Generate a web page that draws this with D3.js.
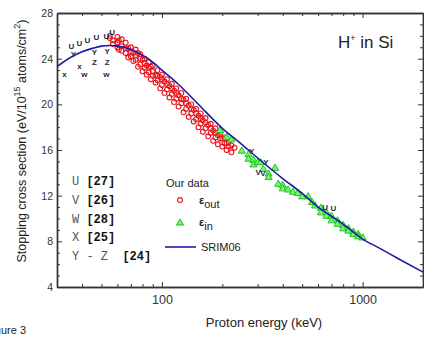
<!DOCTYPE html>
<html>
<head>
<meta charset="utf-8">
<script src="https://cdn.jsdelivr.net/npm/d3@7"></script>
<style>
  body { margin: 0; background: #fff; }
  svg { display: block; font-family: Arial, "Liberation Sans", sans-serif; }
</style>
</head>
<body>
<svg id="chart" width="424" height="338"></svg>
<script>
// SRIM06 curve
const srimE = [30, 35, 40, 45, 50, 55, 60, 70, 80, 90, 100, 120, 150, 200, 250, 300, 400, 500, 600, 700, 800, 1000, 1200, 1500, 2000];
const srimS = [23.3, 24.1, 24.6, 24.9, 25.1, 25.15, 25.1, 24.8, 24.3, 23.7, 23.0, 21.8, 20.1, 17.9, 16.5, 15.3, 13.5, 12.2, 11.0, 10.2, 9.5, 8.2, 7.45, 6.5, 5.3];

// our data, eps_out (red circles)
const outE = [55, 55, 57, 57, 60, 60, 60, 63, 63, 63, 66, 66, 66, 70, 70, 70, 74, 74, 74, 78, 78, 78,
  82, 82, 82, 86, 86, 86, 90, 90, 90, 95, 95, 95, 100, 100, 100, 106, 106, 106, 112, 112, 112,
  118, 118, 118, 125, 125, 125, 132, 132, 132, 140, 140, 140, 148, 148, 148, 156, 156, 156,
  165, 165, 165, 175, 175, 175, 185, 185, 185, 195, 195, 205, 205, 215, 215, 230,
  61, 61, 68, 68, 72, 72, 76, 76, 80, 80, 84, 84, 88, 88, 93, 93, 98, 98, 103, 103, 109, 109,
  115, 115, 121, 121, 128, 128, 136, 136, 144, 144, 152, 152, 160, 160, 170, 170, 180, 180,
  190, 190, 200, 200, 210, 210, 222, 222];
const outS = [25.8, 26.0, 25.6, 25.3, 25.9, 25.4, 25.0, 25.7, 25.1, 24.7, 25.4, 24.9, 24.5, 25.0, 24.6, 24.2,
  24.8, 24.3, 23.9, 24.4, 24.0, 23.5, 24.0, 23.6, 23.2, 23.7, 23.2, 22.8, 23.4, 22.9, 22.5,
  23.0, 22.5, 22.1, 22.6, 22.2, 21.7, 22.2, 21.8, 21.3, 21.8, 21.4, 20.9, 21.4, 21.0, 20.5,
  21.0, 20.5, 20.1, 20.5, 20.1, 19.6, 20.0, 19.6, 19.2, 19.6, 19.2, 18.7, 19.2, 18.8, 18.3,
  18.8, 18.4, 17.9, 18.3, 17.9, 17.5, 17.9, 17.5, 17.1, 17.5, 17.0, 17.1, 16.6, 16.7, 16.3, 16.2,
  25.6, 24.8, 24.9, 24.1, 24.5, 23.8, 24.5, 23.3, 23.9, 22.9, 23.4, 22.6, 23.3, 22.2,
  22.6, 21.9, 22.4, 21.4, 22.0, 21.0, 21.6, 20.6, 21.2, 20.2, 20.8, 19.8, 20.4, 19.3,
  19.9, 18.9, 19.5, 18.5, 19.0, 18.0, 18.6, 17.6, 18.2, 17.2, 17.7, 16.8, 17.3, 16.5,
  17.0, 16.3, 16.6, 16.0, 16.4, 15.8];

// our data, eps_in (green triangles)
const inE = [195, 210, 222, 250, 270, 270, 286, 286, 300, 310, 320, 340, 340, 366, 380, 400, 400, 425, 450, 475,
  500, 535, 560, 580, 620, 620, 660, 660, 700, 700, 750, 750, 800, 800, 850, 850, 900, 900, 950, 950, 1000];
const inS = [17.7, 17.1, 16.9, 15.9, 15.6, 15.2, 15.1, 14.7, 14.9, 14.9, 14.3, 13.9, 13.6, 14.4, 13.0, 12.9, 12.6, 12.5, 12.3, 12.2,
  11.9, 11.9, 11.4, 11.1, 10.9, 10.5, 10.5, 10.2, 10.2, 9.8, 9.8, 9.5, 9.4, 9.1, 9.1, 8.9, 8.8, 8.6, 8.6, 8.4, 8.3];

// literature data, plotted as letters
const litE = [35.4, 38.8, 42.5, 47.1, 52.8, 56.5, 36.2, 46.1, 53.4, 38.8, 32.7, 41.1, 52.8, 46.1, 53.4, 302, 319, 650, 715, 280, 330];
const litS = [25.0, 25.3, 25.6, 25.8, 25.95, 26.3, 24.3, 24.5, 24.6, 23.3, 22.6, 22.6, 22.6, 23.6, 23.6, 14.0, 13.9, 10.9, 10.8, 15.8, 14.9];
const litL = ["U", "U", "U", "U", "U", "U", "Y", "Y", "Y", "x", "x", "w", "w", "Z", "Z", "V", "V", "U", "U", "Y", "Y"];

const refNames = ["U", "V", "W", "X", "Y - Z "];
const refCites = ["[27]", "[26]", "[28]", "[25]", "[24]"];

const xMajor = [100, 1000];
const xMinor = [40, 50, 60, 70, 80, 90, 200, 300, 400, 500, 600, 700, 800, 900, 2000];
const yMajor = [4, 8, 12, 16, 20, 24, 28];
const yMinor = d3.range(4, 29, 1).filter(v => v % 4 !== 0);

const svg = d3.select("#chart");
const L = 57, R = 423, T = 13, B = 287;

const x = d3.scaleLog().domain([30, 2000]).range([L, R]);
const y = d3.scaleLinear().domain([4, 28]).range([B, T]);

const axisColor = "#333";

function styleAxis(g) {
  g.selectAll("path").attr("stroke", axisColor).attr("stroke-width", 1.4);
  g.selectAll("line").attr("stroke", axisColor).attr("stroke-width", 1);
  g.selectAll("text").attr("fill", "#333");
}

// bottom
svg.append("g").attr("transform", `translate(0,${B})`)
  .call(d3.axisBottom(x).tickValues(xMajor).tickFormat(d3.format("d")).tickSize(-5).tickSizeOuter(0).tickPadding(8))
  .call(styleAxis).call(g => g.selectAll("text").attr("font-size", 12.5).attr("font-family", "Arial, sans-serif"));
svg.append("g").attr("transform", `translate(0,${B})`)
  .call(d3.axisBottom(x).tickValues(xMinor).tickFormat("").tickSize(-3).tickSizeOuter(0))
  .call(styleAxis);
// top
svg.append("g").attr("transform", `translate(0,${T})`)
  .call(d3.axisTop(x).tickValues(xMajor).tickFormat("").tickSize(-5).tickSizeOuter(0))
  .call(styleAxis);
svg.append("g").attr("transform", `translate(0,${T})`)
  .call(d3.axisTop(x).tickValues(xMinor).tickFormat("").tickSize(-3).tickSizeOuter(0))
  .call(styleAxis);
// left
svg.append("g").attr("transform", `translate(${L},0)`)
  .call(d3.axisLeft(y).tickValues(yMajor).tickSize(-5).tickSizeOuter(0).tickPadding(4))
  .call(styleAxis).call(g => g.selectAll("text").attr("font-size", 10.5).attr("font-family", "Arial, sans-serif"));
svg.append("g").attr("transform", `translate(${L},0)`)
  .call(d3.axisLeft(y).tickValues(yMinor).tickFormat("").tickSize(-3).tickSizeOuter(0))
  .call(styleAxis);
// right
svg.append("g").attr("transform", `translate(${R},0)`)
  .call(d3.axisRight(y).tickValues(yMajor).tickFormat("").tickSize(-5).tickSizeOuter(0))
  .call(styleAxis);
svg.append("g").attr("transform", `translate(${R},0)`)
  .call(d3.axisRight(y).tickValues(yMinor).tickFormat("").tickSize(-3).tickSizeOuter(0))
  .call(styleAxis);

svg.append("clipPath").attr("id", "clip")
  .append("rect").attr("x", L).attr("y", T).attr("width", R - L).attr("height", B - T);

const plot = svg.append("g").attr("clip-path", "url(#clip)");

// red circles
plot.append("g").selectAll("circle")
  .data(outE.map((e, i) => [e, outS[i]]))
  .join("circle")
  .attr("cx", d => x(d[0])).attr("cy", d => y(d[1])).attr("r", 2.4)
  .attr("fill", "none").attr("stroke", "#e8141c").attr("stroke-width", 1.1);

// green triangles
const tri = d3.symbol().type(d3.symbolTriangle).size(22);
plot.append("g").selectAll("path")
  .data(inE.map((e, i) => [e, inS[i]]))
  .join("path")
  .attr("d", tri)
  .attr("transform", d => `translate(${x(d[0])},${y(d[1])})`)
  .attr("fill", "#7cf07c").attr("stroke", "#18c818").attr("stroke-width", 1);

// SRIM06 line
plot.append("path")
  .datum(srimE.map((e, i) => [e, srimS[i]]))
  .attr("d", d3.line().x(d => x(d[0])).y(d => y(d[1])).curve(d3.curveMonotoneX))
  .attr("fill", "none").attr("stroke", "#1c1ca8").attr("stroke-width", 1.6);

// literature letters
plot.append("g").selectAll("text")
  .data(litE.map((e, i) => [e, litS[i], litL[i]]))
  .join("text")
  .attr("x", d => x(d[0])).attr("y", d => y(d[1]))
  .attr("text-anchor", "middle").attr("dominant-baseline", "middle")
  .attr("font-size", 8).attr("font-weight", "bold").attr("fill", "#2a2a3a")
  .text(d => d[2]);

// reference legend
const refG = svg.append("g").attr("font-family", "'Liberation Mono', 'DejaVu Sans Mono', monospace").attr("font-size", 12);
refNames.forEach((n, i) => {
  const t = refG.append("text").attr("x", 72).attr("y", 185 + i * 18.8).attr("xml:space", "preserve");
  t.append("tspan").attr("fill", "#555").text(n + " ");
  t.append("tspan").attr("fill", "#111").attr("font-weight", "bold").text(refCites[i]);
});

// our data legend
const lg = svg.append("g").attr("font-family", "Arial, sans-serif").attr("font-size", 11).attr("fill", "#222");
lg.append("text").attr("x", 166).attr("y", 187).text("Our data");
lg.append("circle").attr("cx", 180).attr("cy", 200).attr("r", 2.4)
  .attr("fill", "none").attr("stroke", "#e8141c").attr("stroke-width", 1.1);
const t1 = lg.append("text").attr("x", 199).attr("y", 204);
t1.append("tspan").attr("font-weight", "bold").text("ε");
t1.append("tspan").attr("dy", 4).text("out");
lg.append("path").attr("d", tri).attr("transform", "translate(180,223)")
  .attr("fill", "#7cf07c").attr("stroke", "#18c818").attr("stroke-width", 1);
const t2 = lg.append("text").attr("x", 199).attr("y", 226);
t2.append("tspan").attr("font-weight", "bold").text("ε");
t2.append("tspan").attr("dy", 4).text("in");
lg.append("line").attr("x1", 165).attr("x2", 196).attr("y1", 247).attr("y2", 247)
  .attr("stroke", "#1c1ca8").attr("stroke-width", 1.6);
lg.append("text").attr("x", 201).attr("y", 251).text("SRIM06");

// H+ in Si
const h = svg.append("text").attr("x", 338).attr("y", 48).attr("font-size", 17).attr("fill", "#222");
h.append("tspan").text("H");
h.append("tspan").attr("dy", -7).attr("font-size", 9).text("+");
h.append("tspan").attr("dy", 7).text(" in Si");

// axis titles
svg.append("text").attr("x", 264).attr("y", 327).attr("text-anchor", "middle")
  .attr("font-size", 13).attr("fill", "#222").text("Proton energy (keV)");

const yt = svg.append("text").attr("transform", "translate(26,141) rotate(-90)")
  .attr("text-anchor", "middle").attr("font-size", 12.5).attr("fill", "#222");
yt.append("tspan").text("Stopping cross section (eV/10");
yt.append("tspan").attr("dy", -6).attr("font-size", 9).text("15");
yt.append("tspan").attr("dy", 6).text(" atoms/cm");
yt.append("tspan").attr("dy", -6).attr("font-size", 9).text("2");
yt.append("tspan").attr("dy", 6).text(")");

svg.append("text").attr("x", 26).attr("y", 334).attr("text-anchor", "end")
  .attr("font-size", 11).attr("fill", "#222").text("Figure 3");
</script>
</body>
</html>
